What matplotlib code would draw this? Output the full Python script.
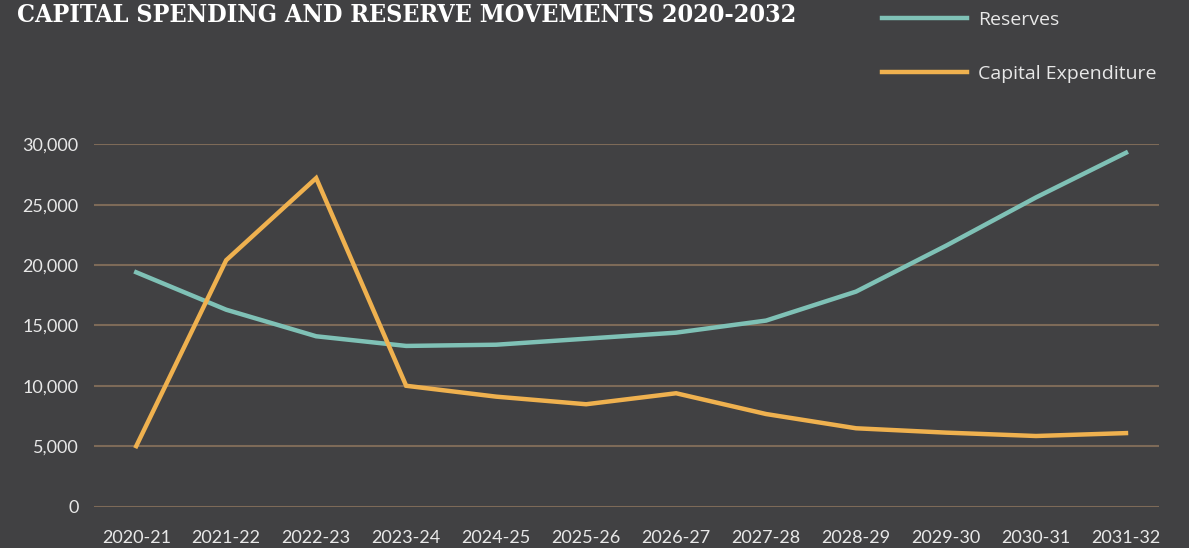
import matplotlib
matplotlib.use("Agg")
import matplotlib.pyplot as plt

# Data
years = ["2020-21", "2021-22", "2022-23", "2023-24", "2024-25", "2025-26",
         "2026-27", "2027-28", "2028-29", "2029-30", "2030-31", "2031-32"]
reserves = [19400, 16300, 14100, 13300, 13400, 13900,
            14400, 15400, 17800, 21600, 25600, 29300]
capex = [5000, 20400, 27200, 10000, 9100, 8470,
         9380, 7660, 6480, 6120, 5840, 6080]
y_ticks = [0, 5000, 10000, 15000, 20000, 25000, 30000]

BG = "#414143"
TEAL = "#7fc1b6"
ORANGE = "#efb14f"
GRID = "#7d6a58"
TEXT = "#e8e8e8"

fig = plt.figure(figsize=(11.89, 5.48), dpi=100, facecolor=BG)
ax = fig.add_axes([0.079, 0.0757, 0.896, 0.661], facecolor=BG)

x = list(range(len(years)))
ax.plot(x, reserves, color=TEAL, lw=3.2, label="Reserves", solid_joinstyle="miter")
ax.plot(x, capex, color=ORANGE, lw=3.2, label="Capital Expenditure", solid_joinstyle="miter")

ax.set_xlim(-0.47, 11.37)
ax.set_ylim(0, 30000)
ax.set_yticks(y_ticks)
ax.set_yticklabels([f"{v:,}" for v in y_ticks])
ax.set_xticks(x)
ax.set_xticklabels(years)

ax.grid(axis="y", color=GRID, lw=1.5)
ax.set_axisbelow(True)
for s in ax.spines.values():
    s.set_visible(False)
ax.tick_params(length=0, colors=TEXT, labelsize=13)
ax.tick_params(axis="x", pad=17)
ax.tick_params(axis="y", pad=11)
for lab in ax.get_xticklabels() + ax.get_yticklabels():
    lab.set_fontfamily("Lato")

fig.text(0.014, 0.972, "CAPITAL SPENDING AND RESERVE MOVEMENTS 2020-2032",
         color="white", fontsize=18, fontweight="bold", family="DejaVu Serif",
         fontstretch="condensed", va="center", ha="left")

leg = fig.legend(loc="upper left", bbox_to_anchor=(0.727, 1.012), frameon=False,
                 handlelength=4.4, labelspacing=1.85, handletextpad=0.55,
                 prop={"family": "Open Sans", "size": 14})
for t in leg.get_texts():
    t.set_color(TEXT)

fig.savefig("out.png", dpi=100, facecolor=BG)
